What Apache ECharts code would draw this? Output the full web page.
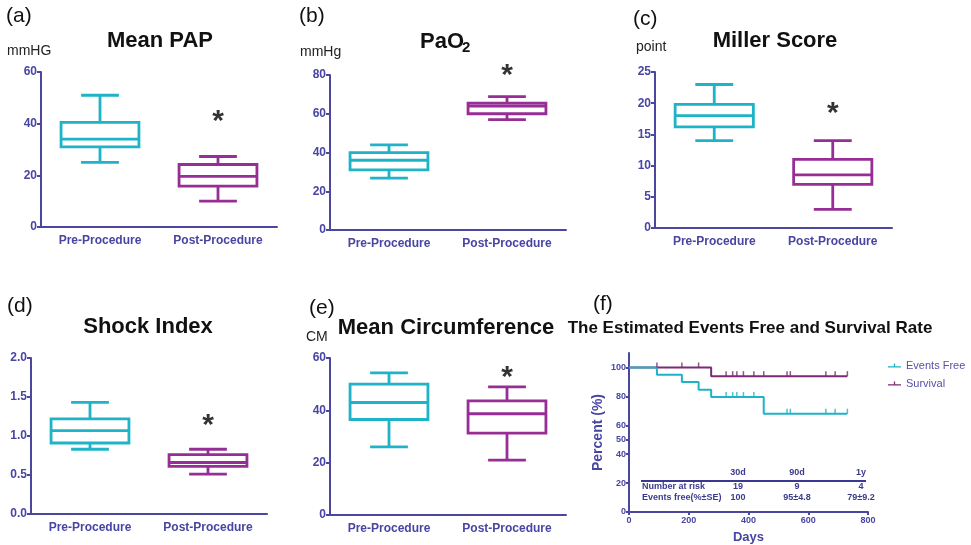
<!DOCTYPE html>
<html>
<head>
<meta charset="utf-8">
<script src="https://cdn.jsdelivr.net/npm/echarts@6/dist/echarts.min.js"></script>
<style>
html,body{margin:0;padding:0;background:#fff;}
#main{width:971px;height:545px;}
</style>
</head>
<body>
<div id="main"></div>
<script>
// ---------- DATA ----------
const categories = ['Pre-Procedure', 'Post-Procedure'];
// box values: [min, Q1, median, Q3, max]
const papPre = [25, 31, 34, 40.5, 51];
const papPost = [10, 15.8, 19.6, 24.2, 27.3];
const pao2Pre = [26.8, 31, 36, 39.9, 43.9];
const pao2Post = [57, 60, 64, 65.5, 68.8];
const millerPre = [14, 16.2, 18, 19.8, 23];
const millerPost = [3, 7, 8.5, 11, 14];
const shockPre = [0.83, 0.91, 1.07, 1.22, 1.43];
const shockPost = [0.51, 0.61, 0.66, 0.76, 0.83];
const circPre = [26, 36.5, 43, 50, 54.3];
const circPost = [21, 31.3, 38.7, 43.6, 49];
// significance marker (value where '*' is drawn above Post-Procedure)
const starValues = [42.6, 82, 19.1, 1.2, 54.4];
// y-axis settings per panel
const yMax = [60, 80, 25, 2.0, 60];
const yInterval = [20, 20, 5, 0.5, 20];

// Kaplan-Meier (days, percent)
const eventsFreeCurve = [[0, 100], [93.5, 95], [177, 90], [233, 84.5], [275, 79.5], [451, 68], [731, 68]];
const survivalCurve = [[0, 100], [275, 94], [731, 94]];
const eventsFreeCensorDays = [325, 347, 361, 383, 418, 529, 540, 659, 690, 731];
const survivalCensorDays = [93.5, 177, 233, 325, 347, 361, 383, 418, 451, 529, 540, 659, 690, 731];
const kmYTicks = [0, 20, 40, 50, 60, 80, 100];
// risk table
const riskCols = ['30d', '90d', '1y'];
const riskRowLabels = ['Number at risk', 'Events free(%\u00b1SE)'];
const numberAtRisk = ['19', '9', '4'];
const eventsFreeRates = ['100', '95\u00b14.8', '79\u00b19.2'];

// ---------- STYLE ----------
const FONT = '"Liberation Sans", Arial, Helvetica, sans-serif';
const CYAN = '#1EB3C6';
const PURPLE = '#962E95';
const KM_PURPLE = '#7B2A73';
const AXIS = '#4B469E';
const LABEL = '#4845A3';

const chart = echarts.init(document.getElementById('main'), null, {renderer: 'canvas'});

const grids = [
  {left: 41, top: 72, width: 236, height: 155},
  {left: 330, top: 75, width: 236, height: 155},
  {left: 655, top: 72, width: 237, height: 156},
  {left: 31, top: 358, width: 236, height: 156},
  {left: 330, top: 358, width: 236, height: 157},
  {left: 629, top: 353, width: 239, height: 160}
];

const boxSets = [
  [papPre, papPost], [pao2Pre, pao2Post], [millerPre, millerPost],
  [shockPre, shockPost], [circPre, circPost]
];
const boxColors = [CYAN, PURPLE];

const xAxes = [], yAxes = [], series = [];
for (let i = 0; i < 5; i++) {
  xAxes.push({
    type: 'category', gridIndex: i, data: categories, boundaryGap: true,
    axisLine: {lineStyle: {color: AXIS, width: 2}},
    axisTick: {alignWithLabel: true, length: 4, lineStyle: {color: AXIS, width: 2}},
    axisLabel: {color: LABEL, fontFamily: FONT, fontWeight: 'bold', fontSize: 12, margin: 8},
    splitLine: {show: false}
  });
  yAxes.push({
    type: 'value', gridIndex: i, min: 0, max: yMax[i], interval: yInterval[i],
    axisLine: {show: true, lineStyle: {color: AXIS, width: 2}},
    axisTick: {show: true, length: 4, lineStyle: {color: AXIS, width: 2}},
    axisLabel: {color: LABEL, fontFamily: FONT, fontWeight: 'bold', fontSize: 12, margin: 4,
      formatter: i === 3 ? (v => v.toFixed(1)) : null},
    splitLine: {show: false}
  });
  const data = boxSets[i].map((b, k) => [k].concat(b));
  series.push({
    type: 'custom', xAxisIndex: i, yAxisIndex: i, data: data,
    encode: {x: 0, y: [1, 2, 3, 4, 5]},
    renderItem: function (params, api) {
      const idx = api.value(0);
      const band = api.size([1, 0])[0];
      const bw = band * 0.66, cw = band * 0.32;
      const pMin = api.coord([idx, api.value(1)]);
      const pQ1 = api.coord([idx, api.value(2)]);
      const pMed = api.coord([idx, api.value(3)]);
      const pQ3 = api.coord([idx, api.value(4)]);
      const pMax = api.coord([idx, api.value(5)]);
      const x = pMin[0];
      const st = {stroke: boxColors[idx], fill: 'none', lineWidth: 2.8};
      return {
        type: 'group',
        children: [
          {type: 'rect', shape: {x: x - bw / 2, y: pQ3[1], width: bw, height: pQ1[1] - pQ3[1]}, style: st},
          {type: 'line', shape: {x1: x - bw / 2, y1: pMed[1], x2: x + bw / 2, y2: pMed[1]}, style: st},
          {type: 'line', shape: {x1: x, y1: pQ3[1], x2: x, y2: pMax[1]}, style: st},
          {type: 'line', shape: {x1: x, y1: pQ1[1], x2: x, y2: pMin[1]}, style: st},
          {type: 'line', shape: {x1: x - cw / 2, y1: pMax[1], x2: x + cw / 2, y2: pMax[1]}, style: st},
          {type: 'line', shape: {x1: x - cw / 2, y1: pMin[1], x2: x + cw / 2, y2: pMin[1]}, style: st}
        ]
      };
    }
  });
  series.push({
    type: 'scatter', xAxisIndex: i, yAxisIndex: i, symbolSize: 0, clip: false,
    data: [[1, starValues[i]]],
    label: {show: true, position: 'inside', formatter: '*', color: '#000', fontSize: 30,
      fontWeight: 'bold', fontFamily: FONT, offset: [0, 5]},
    silent: true
  });
}

// KM panel axes
xAxes.push({
  type: 'value', gridIndex: 5, min: 0, max: 800, interval: 200,
  name: 'Days', nameLocation: 'middle', nameGap: 19,
  nameTextStyle: {color: LABEL, fontFamily: FONT, fontWeight: 'bold', fontSize: 13},
  axisLine: {lineStyle: {color: AXIS, width: 2}},
  axisTick: {length: 3, lineStyle: {color: AXIS, width: 2}},
  axisLabel: {color: LABEL, fontFamily: FONT, fontWeight: 'bold', fontSize: 9, margin: 4},
  splitLine: {show: false}
});
yAxes.push({
  type: 'value', gridIndex: 5, min: 0, max: 110,
  name: 'Percent (%)', nameLocation: 'middle', nameGap: 24, nameRotate: 90,
  nameTextStyle: {color: LABEL, fontFamily: FONT, fontWeight: 'bold', fontSize: 14},
  axisLine: {show: true, lineStyle: {color: AXIS, width: 2}},
  axisTick: {show: true, length: 3, customValues: kmYTicks, lineStyle: {color: AXIS, width: 2}},
  axisLabel: {color: LABEL, fontFamily: FONT, fontWeight: 'bold', fontSize: 9, margin: 3, customValues: kmYTicks},
  splitLine: {show: false}
});

function stepAt(curve, t) {
  let v = curve[0][1];
  for (const p of curve) { if (p[0] <= t) v = p[1]; }
  return v;
}

series.push({
  name: 'Survival', type: 'line', xAxisIndex: 5, yAxisIndex: 5, step: 'end',
  data: survivalCurve, showSymbol: false, symbol: 'none',
  lineStyle: {color: KM_PURPLE, width: 2}, itemStyle: {color: KM_PURPLE}, z: 2
});
series.push({
  name: 'Events Free', type: 'line', xAxisIndex: 5, yAxisIndex: 5, step: 'end',
  data: eventsFreeCurve, showSymbol: false, symbol: 'none',
  lineStyle: {color: CYAN, width: 2}, itemStyle: {color: CYAN}, z: 3
});
series.push({
  name: 'survCensor', type: 'scatter', xAxisIndex: 5, yAxisIndex: 5,
  data: survivalCensorDays.map(t => [t, stepAt(survivalCurve, t)]),
  symbol: 'rect', symbolSize: [1.5, 5], symbolOffset: [0, -2.5],
  itemStyle: {color: KM_PURPLE}, z: 4, silent: true
});
series.push({
  name: 'efCensor', type: 'scatter', xAxisIndex: 5, yAxisIndex: 5,
  data: eventsFreeCensorDays.map(t => [t, stepAt(eventsFreeCurve, t)]),
  symbol: 'rect', symbolSize: [1.5, 5], symbolOffset: [0, -2.5],
  itemStyle: {color: CYAN}, z: 4, silent: true
});

// ---------- TEXT GRAPHICS ----------
function txt(text, x, y, size, opts) {
  opts = opts || {};
  return {
    type: 'text', x: x, y: y, rotation: opts.rotation || 0, silent: true,
    style: {
      text: text, fontSize: size, fontFamily: FONT, fontWeight: opts.bold ? 'bold' : 'normal',
      fill: opts.color || '#111', textAlign: opts.align || 'left', textVerticalAlign: 'middle'
    }
  };
}
const graphics = [
  txt('(a)', 6, 16, 21), txt('(b)', 299, 16, 21), txt('(c)', 633, 19, 21),
  txt('(d)', 7, 306, 21), txt('(e)', 309, 308, 21), txt('(f)', 593, 304, 21),
  txt('Mean PAP', 160, 41, 22, {bold: true, align: 'center'}),
  txt('PaO', 420, 42, 22, {bold: true}),
  txt('2', 462, 48, 15, {bold: true}),
  txt('Miller Score', 775, 41, 22, {bold: true, align: 'center'}),
  txt('Shock Index', 148, 327, 22, {bold: true, align: 'center'}),
  txt('Mean Circumference', 446, 328, 22, {bold: true, align: 'center'}),
  txt('The Estimated Events Free and Survival Rate', 750, 328, 17, {bold: true, align: 'center'}),
  txt('mmHG', 7, 51, 14, {color: '#222'}),
  txt('mmHg', 300, 52, 14, {color: '#222'}),
  txt('point', 636, 47, 14, {color: '#222'}),
  txt('CM', 306, 337, 14, {color: '#222'}),
  {type: 'line', silent: true, shape: {x1: 641, y1: 481, x2: 866, y2: 481}, style: {stroke: '#3b3890', lineWidth: 2}}
];
const colX = [738, 797, 861];
riskCols.forEach((c, k) => graphics.push(txt(c, colX[k], 473, 9, {bold: true, color: '#3b3b8c', align: 'center'})));
riskRowLabels.forEach((c, k) => graphics.push(txt(c, 642, 487 + k * 11, 9, {bold: true, color: '#3b3b8c'})));
numberAtRisk.forEach((c, k) => graphics.push(txt(c, colX[k], 487, 9, {bold: true, color: '#3b3b8c', align: 'center'})));
eventsFreeRates.forEach((c, k) => graphics.push(txt(c, colX[k], 498, 9, {bold: true, color: '#3b3b8c', align: 'center'})));

chart.setOption({
  animation: false,
  backgroundColor: '#fff',
  grid: grids,
  xAxis: xAxes,
  yAxis: yAxes,
  legend: {
    data: ['Events Free', 'Survival'], orient: 'vertical', left: 883, top: 355,
    itemWidth: 13, itemHeight: 8, itemGap: 7,
    icon: 'path://M0,6L20,6L20,8L0,8Z M9,2L11,2L11,6L9,6Z',
    textStyle: {color: '#5650A6', fontFamily: FONT, fontSize: 11}
  },
  graphic: graphics,
  series: series
});
</script>
</body>
</html>
